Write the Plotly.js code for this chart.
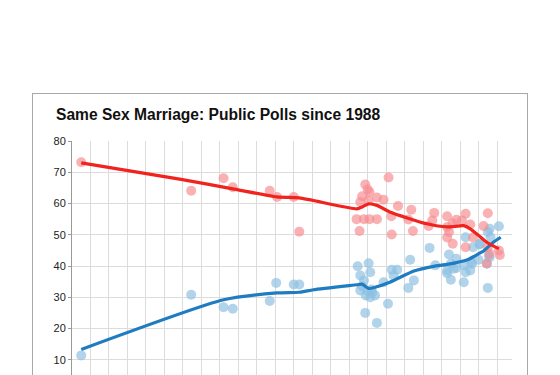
<!DOCTYPE html>
<html>
<head>
<meta charset="utf-8">
<script src="https://cdn.plot.ly/plotly-3.0.1.min.js"></script>
<style>
  html, body { margin: 0; padding: 0; background: #ffffff; width: 560px; height: 375px; overflow: hidden; }
  #box { position: absolute; left: 32px; top: 93px; width: 494px; height: 345px; border: 1px solid #a8a8a8; background: #fff; }
  #chart { width: 494px; height: 345px; }
</style>
</head>
<body>
<div id="box"><div id="chart"></div></div>
<script>
// Oppose polls (year, percent)
const opposeYears = [1988.5,1994.45,1996.2,1996.7,1998.7,1999.1,2000.0,2000.3,2003.4,2003.56,2003.6,2003.7,2003.8,2003.87,2004.0,2004.1,2004.05,2004.1,2004.5,2004.5,2004.86,2005.13,2005.28,2005.3,2005.64,2006.2,2006.36,2006.45,2007.3,2007.5,2007.6,2008.3,2008.3,2008.3,2008.4,2008.6,2008.6,2008.8,2009.1,2009.3,2009.3,2009.55,2009.7,2010.27,2010.5,2010.5,2010.45,2010.6,2011.1,2011.15];
const opposeValues = [73.2,64.1,68.1,65.2,64.1,62.1,62.1,51.0,55.0,51.2,60.5,62.3,55.0,66.1,64.5,63.7,61.0,55.0,61.9,55.0,61.2,68.3,55.9,50.1,59.2,54.9,58.0,51.2,52.8,54.6,57.0,55.9,52.5,49.1,50.9,53.7,47.1,54.8,54.6,56.7,46.0,53.3,49.1,52.8,56.9,46.0,40.8,43.9,45.0,43.5];

// Support polls (year, percent)
const supportYears = [1988.5,1994.45,1996.2,1996.7,1998.7,1999.05,2000.0,2000.3,2003.46,2003.6,2003.6,2003.8,2003.87,2003.9,2004.05,2004.14,2004.14,2004.4,2004.2,2003.7,2004.0,2004.25,2004.5,2004.86,2005.1,2005.3,2005.6,2005.4,2006.2,2006.3,2006.5,2007.35,2007.66,2008.3,2008.3,2008.4,2008.5,2008.5,2008.65,2008.8,2008.8,2009.2,2009.2,2009.3,2009.3,2009.6,2009.55,2009.65,2009.7,2010.0,2010.06,2010.5,2010.55,2010.6,2010.45,2010.5,2010.6,2011.1,2010.65,2010.05];
const supportValues = [11.4,30.8,26.8,26.3,28.8,34.6,34.1,34.1,39.9,37.0,32.2,35.4,25.0,30.6,40.9,38.0,30.0,30.6,32.5,33.5,32.0,31.5,21.8,34.8,27.9,38.8,38.8,37.0,33.0,42.0,35.4,45.8,40.2,37.7,38.6,43.7,40.7,35.6,39.1,39.4,42.3,34.8,40.2,49.2,38.0,41.2,38.6,40.7,46.0,42.0,47.1,50.9,43.4,42.8,40.7,33.0,51.9,52.7,49.2,46.9];

// Smoothed trends
const opposeTrendYears = [1988.5,1993.9,1996.7,1999.1,2000.3,2003.42,2003.7,2004.05,2004.5,2005.2,2007.2,2008.3,2009.2,2009.55,2010.0,2010.45,2011.1];
const opposeTrendValues = [73.0,67.7,64.7,62.1,61.8,58.3,58.9,59.9,59.4,57.3,53.5,52.5,52.9,51.9,49.8,47.6,45.5];
const supportTrendYears = [1988.5,1996.2,1999.1,2000.3,2001.07,2003.42,2003.7,2004.05,2004.4,2005.2,2006.5,2007.57,2008.3,2009.4,2010.0,2010.27,2010.8,2011.2];
const supportTrendValues = [13.3,29.2,31.4,31.6,32.4,34.0,34.2,32.8,33.2,34.8,38.4,39.9,40.5,42.0,43.9,44.8,47.6,49.2];

const yTicks = [10,20,30,40,50,60,70,80];

const traces = [
  { type: 'scatter', mode: 'markers', x: supportYears, y: supportValues, name: 'Support',
    marker: { size: 10, color: 'rgba(140,192,226,0.68)', line: { width: 0 } }, hoverinfo: 'x+y' },
  { type: 'scatter', mode: 'markers', x: opposeYears, y: opposeValues, name: 'Oppose',
    marker: { size: 10, color: 'rgba(246,140,145,0.68)', line: { width: 0 } }, hoverinfo: 'x+y' },
  { type: 'scatter', mode: 'lines', x: supportTrendYears, y: supportTrendValues, name: 'Support trend',
    line: { color: '#1f7cc0', width: 3.2, shape: 'spline', smoothing: 0.6 } },
  { type: 'scatter', mode: 'lines', x: opposeTrendYears, y: opposeTrendValues, name: 'Oppose trend',
    line: { color: '#f0231e', width: 3.2, shape: 'spline', smoothing: 0.6 } }
];

const layout = {
  width: 494, height: 345,
  margin: { l: 39, r: 15, t: 47, b: 48 },
  paper_bgcolor: '#ffffff', plot_bgcolor: '#ffffff',
  showlegend: false,
  font: { family: 'Arial, "Liberation Sans", sans-serif', size: 11, color: '#222' },
  title: {
    text: '<b>Same Sex Marriage: Public Polls since 1988</b>',
    font: { family: 'Arial, "Liberation Sans", sans-serif', size: 15.6, color: '#111' },
    xref: 'container', yref: 'container', x: 23/494, xanchor: 'left', y: 1 - 21/345, yanchor: 'middle'
  },
  xaxis: {
    range: [1988, 2011.81], tick0: 1988, dtick: 1, showgrid: true, gridcolor: '#dcdcdc', gridwidth: 1,
    zeroline: false, showline: false, showticklabels: false, ticks: ''
  },
  yaxis: {
    range: [0, 80], tickvals: yTicks, ticktext: yTicks.map(String),
    showgrid: true, gridcolor: '#dcdcdc', gridwidth: 1, zeroline: false,
    showline: true, linecolor: '#999', linewidth: 1, ticks: 'outside', ticklen: 3, tickcolor: '#999',
    tickfont: { size: 11, color: '#222' }
  }
};

Plotly.newPlot('chart', traces, layout, { staticPlot: true, displayModeBar: false });
</script>
</body>
</html>
